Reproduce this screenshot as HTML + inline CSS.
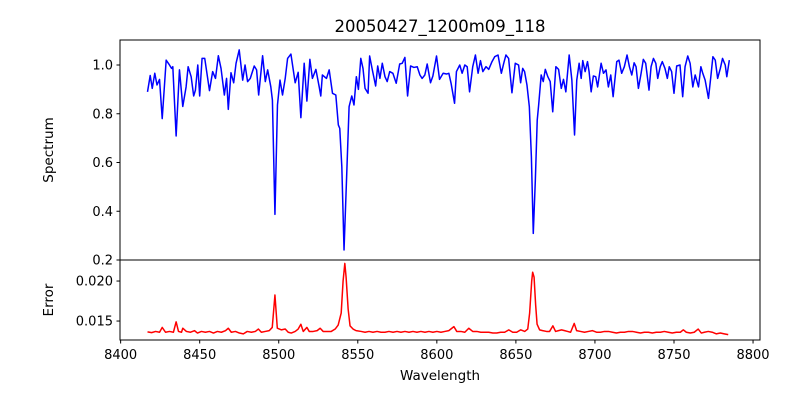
<!DOCTYPE html>
<html><head><meta charset="utf-8"><style>
html,body{margin:0;padding:0;background:#fff;}
svg{display:block;font-family:"DejaVu Sans","Liberation Sans",sans-serif;}
</style></head><body>
<svg id="chart" width="800" height="400" viewBox="0 0 800 400" xmlns="http://www.w3.org/2000/svg">
<rect width="800" height="400" fill="#fff"/>
<text x="440" y="32" font-size="16.5" text-anchor="middle">20050427_1200m09_118</text>
<text transform="translate(53,150) rotate(-90)" font-size="13.5" text-anchor="middle">Spectrum</text>
<text transform="translate(53,300) rotate(-90)" font-size="13.5" text-anchor="middle">Error</text>
<text x="440" y="380" font-size="13.5" text-anchor="middle">Wavelength</text>
<g id="topPanel"></g>
<g id="botPanel"></g>
</svg>
<script>
const specWl=[8417,8418.7,8420,8421.6,8423,8424.6,8426.3,8428.8,8430.5,8432.2,8433,8435.1,8437.2,8439.3,8441.4,8442.7,8444.6,8446.2,8447.3,8448.8,8450,8451.5,8453.2,8456.2,8458.2,8460,8461.8,8463.5,8465.6,8467,8468.1,8469.8,8471.5,8473,8475,8477.2,8478.7,8480.3,8482,8484.5,8486,8487.3,8489.8,8491.5,8493,8495,8496,8497.6,8499.2,8500.8,8502.4,8504.1,8505.6,8507.7,8510.4,8512.3,8514,8516.1,8517.8,8519.7,8521.3,8523.5,8525.6,8526.6,8527.6,8530.2,8531.9,8534,8536.1,8537.7,8538.6,8539.9,8541.3,8542.8,8544.5,8546.2,8547.6,8549.1,8550.4,8551.9,8553.3,8554.6,8556.5,8557.5,8559.2,8561.3,8562.6,8564,8565.5,8567.2,8568.6,8570.2,8572.2,8574.3,8576.5,8578.1,8579.8,8581.5,8583.4,8585.5,8587.6,8589.3,8590.7,8592.4,8593.9,8596,8597.5,8599.8,8601.7,8604,8606.1,8607.6,8609,8611.2,8612.4,8614.5,8616,8617.7,8619.2,8620.7,8622.7,8624.4,8626.1,8627.6,8629.1,8631.1,8632.8,8634.9,8636.6,8638.7,8640.8,8642.3,8643.7,8645.4,8647.5,8649.6,8651.7,8653,8654.3,8655.5,8657,8658.5,8659.8,8661,8662.3,8663.5,8664.4,8666,8667.3,8668.6,8670.2,8671.7,8673.3,8675.3,8677,8678.7,8680.1,8681.6,8683.7,8685.4,8687.1,8688.5,8690,8691.3,8692.3,8693.8,8695.3,8696.3,8697.6,8699,8700.5,8701.7,8703.9,8705.4,8707,8708.5,8710,8711.5,8713.8,8715.2,8716.9,8718.6,8720.3,8721.8,8723.3,8724.8,8726,8727.5,8729.2,8730.6,8732.1,8734.2,8735.5,8737,8738.5,8739.7,8741.3,8742.6,8744.3,8745.8,8747,8748.5,8750,8751.7,8753.8,8755.5,8757,8758.7,8760.2,8761.9,8763.4,8765.5,8767,8768.2,8769.7,8771.8,8773.3,8774.6,8776.1,8777.6,8779.3,8780.7,8782.4,8783.4,8785];
const specFlux=[0.89,0.957,0.904,0.966,0.918,0.941,0.78,1.02,1.004,0.986,0.993,0.709,0.98,0.83,0.91,0.993,0.952,0.873,0.897,1.0,0.873,1.027,1.027,0.895,0.973,0.945,1.038,0.986,0.877,0.945,0.818,0.968,0.927,1.007,1.062,0.938,1.0,0.932,0.945,0.996,0.98,0.877,1.038,0.932,0.98,0.91,0.856,0.387,0.836,0.938,0.877,0.945,1.027,1.045,0.927,0.97,0.784,1.007,0.852,1.023,0.945,0.982,0.91,0.873,0.959,0.945,0.98,0.884,0.877,0.754,0.74,0.583,0.241,0.515,0.829,0.873,0.836,0.952,0.9,1.027,0.986,0.904,0.884,1.037,0.98,0.914,0.996,0.945,1.007,0.952,0.932,0.973,0.966,0.925,1.004,1.007,1.031,0.873,0.996,0.99,0.993,0.959,0.945,0.959,1.004,0.927,0.955,1.037,0.941,0.966,0.963,0.966,0.925,0.843,0.973,1.0,0.966,1.0,0.993,0.89,0.993,1.041,0.966,1.018,0.973,0.993,0.982,1.014,1.034,1.041,0.966,1.007,1.041,1.027,0.886,1.007,1.0,0.927,0.986,0.973,0.918,0.829,0.624,0.309,0.528,0.774,0.836,0.959,0.932,0.982,0.952,0.932,0.808,0.993,0.982,0.904,0.941,0.89,1.041,0.938,0.713,0.938,1.007,0.945,1.018,0.973,1.014,0.973,0.89,0.955,0.952,0.91,1.007,0.966,0.98,0.91,0.959,0.87,1.014,1.02,0.966,0.993,1.041,0.993,0.959,1.009,0.993,0.904,0.966,1.023,1.007,0.897,0.993,1.027,1.007,0.945,0.993,1.014,0.986,0.945,0.993,0.973,0.884,0.996,1.0,0.87,0.993,1.037,1.007,0.91,0.959,0.91,0.993,0.966,0.938,0.863,0.952,1.034,1.02,0.945,0.986,1.027,1.0,0.952,1.02];
const errWl=[8417.0,8419.6,8422.1,8424.6,8426.3,8428.4,8430.9,8433.4,8435.1,8436.6,8438.5,8439.3,8441.6,8444.2,8446.7,8448.6,8451.1,8453.6,8456.2,8458.7,8461.2,8463.7,8466.3,8468.1,8470.0,8472.6,8475.1,8477.6,8480.1,8482.7,8485.2,8487.1,8489.0,8491.5,8494.0,8495.9,8497.6,8499.1,8501.6,8504.1,8506.0,8507.9,8510.4,8512.3,8514.0,8515.5,8517.8,8519.3,8521.8,8524.3,8526.2,8528.1,8530.6,8533.2,8535.7,8537.6,8539.5,8540.7,8541.8,8542.6,8543.9,8545.1,8547.0,8548.9,8552.1,8554.6,8557.1,8559.6,8562.2,8564.7,8567.2,8569.7,8572.3,8574.8,8577.3,8579.8,8582.4,8584.9,8587.4,8589.9,8592.5,8595.0,8597.5,8600.0,8602.6,8605.1,8607.6,8610.8,8612.6,8615.2,8617.7,8620.2,8622.7,8625.3,8627.8,8630.3,8632.8,8635.4,8637.9,8640.4,8642.9,8645.5,8648.0,8650.5,8653.0,8655.6,8657.5,8658.7,8660.0,8660.6,8661.5,8662.5,8663.4,8665.0,8666.9,8669.4,8671.3,8673.4,8675.1,8677.0,8678.9,8680.8,8682.7,8684.6,8686.9,8688.4,8690.9,8693.4,8695.9,8698.5,8701.0,8703.5,8706.0,8708.6,8711.1,8713.6,8716.1,8718.7,8721.2,8723.7,8726.2,8728.8,8731.3,8733.8,8736.3,8738.8,8741.4,8743.9,8746.4,8748.9,8751.5,8754.0,8755.9,8757.8,8760.3,8762.8,8765.3,8767.3,8769.2,8771.7,8774.2,8776.7,8779.3,8781.8,8784.3];
const errVal=[0.01365,0.01355,0.0137,0.0136,0.0142,0.0136,0.0137,0.0136,0.0149,0.0137,0.0136,0.0141,0.0137,0.0136,0.0138,0.0135,0.0137,0.0136,0.0137,0.0135,0.0137,0.0136,0.0138,0.0141,0.0136,0.0137,0.0135,0.0134,0.0137,0.0136,0.0137,0.014,0.0136,0.0137,0.0138,0.0142,0.01825,0.0141,0.0139,0.014,0.0136,0.0135,0.0137,0.014,0.0146,0.0137,0.0142,0.0137,0.0137,0.0138,0.0141,0.0137,0.0137,0.0137,0.014,0.0145,0.016,0.02,0.0222,0.0205,0.0165,0.0144,0.014,0.0138,0.0137,0.0136,0.0137,0.0136,0.0137,0.0136,0.0136,0.0137,0.0136,0.0137,0.0136,0.0137,0.0136,0.0137,0.0136,0.0137,0.0136,0.0137,0.0136,0.0137,0.0136,0.0137,0.0138,0.0143,0.0137,0.0137,0.0136,0.0141,0.0137,0.0137,0.0136,0.0136,0.0136,0.0135,0.0135,0.0136,0.0136,0.0139,0.0136,0.0136,0.0139,0.0137,0.014,0.016,0.02,0.0211,0.0205,0.017,0.0146,0.0139,0.0138,0.0137,0.0137,0.0144,0.0137,0.0138,0.0139,0.0138,0.0137,0.0136,0.0147,0.0138,0.0137,0.0136,0.0137,0.0138,0.0136,0.0136,0.0137,0.0137,0.0136,0.0135,0.0136,0.0136,0.0137,0.0137,0.0136,0.0135,0.0136,0.0136,0.0135,0.0136,0.0136,0.0137,0.0136,0.0135,0.0136,0.0136,0.0139,0.0136,0.0135,0.0136,0.014,0.0135,0.0136,0.0137,0.0136,0.0134,0.0135,0.0134,0.0133];
const xTicks=[8400,8450,8500,8550,8600,8650,8700,8750,8800];
const topTicks=[0.2,0.4,0.6,0.8,1.0];
const botTicks=[0.015,0.020];

const NS='http://www.w3.org/2000/svg';
const L=120,R=760;
const xMin=8399.6,xMax=8804.4;
const X=v=>L+(v-xMin)/(xMax-xMin)*(R-L);
const topY=v=>260-(v-0.2)/(1.1026-0.2)*220;
const botY=v=>340-(v-0.01263)/(0.02263-0.01263)*80;
function mk(tag,attrs,parent){const e=document.createElementNS(NS,tag);for(const k in attrs)e.setAttribute(k,attrs[k]);parent.appendChild(e);return e;}
const topG=document.getElementById('topPanel'),botG=document.getElementById('botPanel');

const p1=mk('polyline',{points:specWl.map((w,i)=>X(w).toFixed(2)+','+topY(specFlux[i]).toFixed(2)).join(' '),fill:'none',stroke:'#0000ff','stroke-width':1.5,'stroke-linejoin':'round'},topG);


const p2=mk('polyline',{points:errWl.map((w,i)=>X(w).toFixed(2)+','+botY(errVal[i]).toFixed(2)).join(' '),fill:'none',stroke:'#ff0000','stroke-width':1.5,'stroke-linejoin':'round'},botG);



const f1=mk('rect',{x:L,y:40,width:R-L,height:220,fill:'none',stroke:'#000','stroke-width':1},topG);


const f2=mk('rect',{x:L,y:260,width:R-L,height:80,fill:'none',stroke:'#000','stroke-width':1},botG);



topTicks.forEach(v=>{const y=topY(v);
 const t=mk('line',{x1:L-3.5,x2:L,y1:y,y2:y,stroke:'#000'},topG);
 
 
 const tx=mk('text',{x:L-7,y:y+4.5,'font-size':13,'text-anchor':'end'},topG);tx.textContent=v.toFixed(1);
 
 });
botTicks.forEach(v=>{const y=botY(v);
 const t=mk('line',{x1:L-3.5,x2:L,y1:y,y2:y,stroke:'#000'},botG);
 
 
 const tx=mk('text',{x:L-7,y:y+4.5,'font-size':13,'text-anchor':'end'},botG);tx.textContent=v.toFixed(3);
 
 });
xTicks.forEach(v=>{const x=X(v);
 const t=mk('line',{x1:x,x2:x,y1:340,y2:343.5,stroke:'#000'},botG);
 
 
 const tx=mk('text',{x:x,y:359,'font-size':13,'text-anchor':'middle'},botG);tx.textContent=v;
 
 });
</script>
</body></html>
